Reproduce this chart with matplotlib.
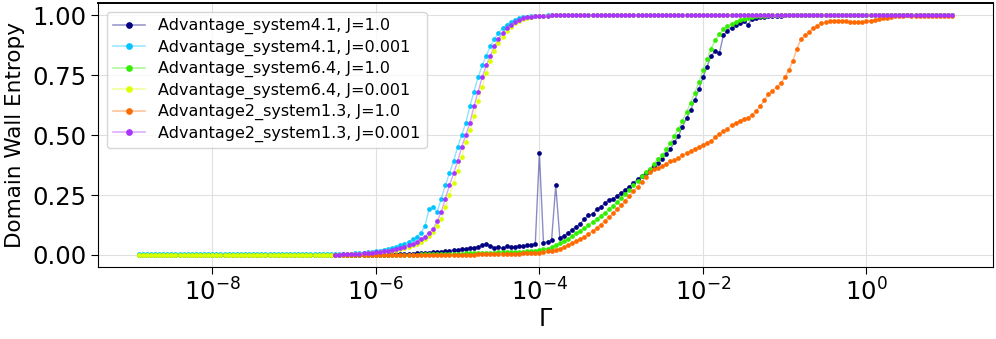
import matplotlib
matplotlib.use("Agg")
import matplotlib.pyplot as plt
import matplotlib.ticker as mticker
from matplotlib.colors import to_rgba
import numpy as np

# log10(Gamma) range of each sweep
range_41_64 = (-8.9, 1.05)   # Advantage_system4.1 / 6.4 sweeps
range_a2 = (-6.5, 1.05)      # Advantage2_system1.3 sweeps

labels = [
    "Advantage_system4.1, J=1.0",
    "Advantage_system4.1, J=0.001",
    "Advantage_system6.4, J=1.0",
    "Advantage_system6.4, J=0.001",
    "Advantage2_system1.3, J=1.0",
    "Advantage2_system1.3, J=0.001",
]
colors = ["#000080", "#00c4ff", "#33ee00", "#ddff00", "#ff6a00", "#aa33ff"]

# values, 0.05-decade steps
s41_j1 = [0.0] * 58 + [
    0.001, 0.001, 0.002, 0.002, 0.003, 0.003, 0.004, 0.004, 0.005, 0.006,
    0.007, 0.008, 0.009, 0.010, 0.011, 0.012, 0.014, 0.016, 0.018, 0.020,
    0.022, 0.024, 0.026, 0.029, 0.031, 0.035, 0.040, 0.044, 0.038, 0.030,
    0.034, 0.028, 0.036, 0.032, 0.035, 0.038, 0.036, 0.040, 0.043, 0.046,
    0.425, 0.052, 0.055, 0.064, 0.29, 0.072, 0.080, 0.092, 0.105, 0.118,
    0.13, 0.15, 0.165, 0.17, 0.19, 0.20, 0.215, 0.23, 0.235, 0.245,
    0.26, 0.27, 0.285, 0.30, 0.315, 0.33, 0.34, 0.355, 0.37, 0.385,
    0.40, 0.42, 0.44, 0.47, 0.495, 0.535, 0.57, 0.605, 0.645, 0.69,
    0.74, 0.785, 0.83, 0.85, 0.84, 0.915, 0.935, 0.948, 0.958, 0.967,
    0.974, 0.96, 0.983, 0.987, 0.99, 0.992, 0.994, 0.995, 0.997, 0.998,
    0.999,
] + [1.0] * 41

s41_j0001 = [0.003] * 48 + [
    0.003, 0.003, 0.004, 0.005, 0.006, 0.007, 0.008, 0.009, 0.011, 0.013,
    0.015, 0.018, 0.021, 0.025, 0.029, 0.034, 0.040, 0.047, 0.055, 0.065,
    0.077, 0.091, 0.12, 0.19, 0.20, 0.18, 0.235, 0.29, 0.34, 0.39,
    0.45, 0.50, 0.55, 0.62, 0.68, 0.74, 0.79, 0.83, 0.87, 0.90,
    0.925, 0.945, 0.96, 0.972, 0.98, 0.986, 0.99, 0.993, 0.995, 0.997,
    0.998, 0.998, 0.999,
] + [1.0] * 99

s64_j1 = [0.0] * 58 + [
    0.001, 0.001, 0.001, 0.001, 0.001, 0.001, 0.002, 0.002, 0.002, 0.002,
    0.002, 0.003, 0.003, 0.003, 0.003, 0.004, 0.004, 0.004, 0.005, 0.005,
    0.006, 0.006, 0.007, 0.007, 0.008, 0.008, 0.009, 0.009, 0.010, 0.010,
    0.011, 0.011, 0.012, 0.012, 0.013, 0.013, 0.014, 0.015, 0.016, 0.018,
    0.020, 0.023, 0.027, 0.033, 0.040, 0.048, 0.057, 0.067, 0.078, 0.090,
    0.10, 0.112, 0.124, 0.137, 0.150, 0.163, 0.176, 0.19, 0.205, 0.22,
    0.237, 0.254, 0.272, 0.29, 0.31, 0.33, 0.345, 0.36, 0.38, 0.40,
    0.415, 0.44, 0.465, 0.495, 0.525, 0.56, 0.595, 0.635, 0.675, 0.72,
    0.77, 0.815, 0.86, 0.895, 0.92, 0.94, 0.953, 0.963, 0.972, 0.979,
    0.984, 0.988, 0.991, 0.994, 0.996, 0.998, 0.999,
] + [1.0] * 45

s64_j0001 = [0.002] * 48 + [
    0.002, 0.002, 0.002, 0.003, 0.003, 0.004, 0.005, 0.006, 0.007, 0.008,
    0.009, 0.011, 0.013, 0.015, 0.018, 0.021, 0.025, 0.029, 0.034, 0.040,
    0.047, 0.056, 0.067, 0.080, 0.095, 0.12, 0.15, 0.20, 0.25, 0.30,
    0.35, 0.41, 0.47, 0.52, 0.58, 0.64, 0.70, 0.76, 0.81, 0.85,
    0.885, 0.91, 0.935, 0.952, 0.966, 0.976, 0.983, 0.988, 0.992, 0.994,
    0.996, 0.997, 0.998, 0.999,
] + [1.0] * 98

a2_j1 = [0.0] * 20 + [0.001] * 10 + [
    0.001, 0.002, 0.002, 0.002, 0.002, 0.003, 0.003, 0.003, 0.004, 0.004,
    0.004, 0.005, 0.005, 0.005, 0.006, 0.006, 0.007, 0.007, 0.008, 0.009,
    0.010, 0.012, 0.015, 0.018, 0.022, 0.027, 0.033, 0.040, 0.048, 0.057,
    0.066, 0.076, 0.088, 0.10, 0.113, 0.127, 0.142, 0.157, 0.173, 0.19,
    0.207, 0.225, 0.245, 0.265, 0.285, 0.305, 0.325, 0.345, 0.36, 0.362,
    0.37, 0.38, 0.39, 0.395, 0.405, 0.415, 0.425, 0.435, 0.443, 0.45,
    0.46, 0.468, 0.477, 0.49, 0.503, 0.515, 0.527, 0.54, 0.55, 0.56,
    0.568, 0.572, 0.585, 0.60, 0.62, 0.645, 0.67, 0.685, 0.70, 0.715,
    0.74, 0.77, 0.81, 0.86, 0.90, 0.915, 0.93, 0.945, 0.955, 0.965,
    0.97, 0.974, 0.976, 0.977, 0.976, 0.975, 0.973, 0.971, 0.97, 0.972,
    0.975, 0.977, 0.98, 0.983, 0.986, 0.989, 0.992, 0.995, 0.997, 0.998,
    0.999,
] + [0.997] * 11

a2_j0001 = [
    0.002, 0.002, 0.003, 0.003, 0.004, 0.005, 0.006, 0.007, 0.008, 0.009,
    0.011, 0.013, 0.015, 0.018, 0.021, 0.025, 0.029, 0.034, 0.040, 0.047,
    0.055, 0.065, 0.077, 0.091, 0.108, 0.14, 0.18, 0.235, 0.29, 0.34,
    0.39, 0.45, 0.50, 0.55, 0.62, 0.68, 0.74, 0.79, 0.83, 0.87,
    0.90, 0.925, 0.945, 0.96, 0.972, 0.98, 0.986, 0.99, 0.993, 0.995,
    0.997, 0.998, 0.998, 0.999,
] + [1.0] * 98

series = [
    (s41_j1, range_41_64),
    (s41_j0001, range_41_64),
    (s64_j1, range_41_64),
    (s64_j0001, range_41_64),
    (a2_j1, range_a2),
    (a2_j0001, range_a2),
]

fig = plt.figure(figsize=(9.96, 3.39), dpi=100)
ax = fig.add_axes([0.0984, 0.2124, 0.8986, 0.7786])

for (y, (lo, hi)), lab, c in zip(series, labels, colors):
    g = np.logspace(lo, hi, len(y))
    ax.plot(g, y, color=c, lw=1.0, alpha=0.45, zorder=2)
    ax.plot(g, y, ls="none", marker="o", ms=3.4, mec="none", color=c, zorder=3)
    # legend proxy: faint line with solid marker
    ax.plot([], [], color=to_rgba(c, 0.4), lw=1.2, marker="o", ms=3.8,
            mfc=c, mec=c, label=lab)

ax.set_xscale("log")
ax.set_xticks([1e-8, 1e-6, 1e-4, 1e-2, 1e0])
ax.xaxis.set_minor_locator(mticker.NullLocator())
ax.set_yticks([0.0, 0.25, 0.5, 0.75, 1.0])
ax.yaxis.set_major_formatter(mticker.FormatStrFormatter("%.2f"))
ax.tick_params(labelsize=17.5, length=5)
ax.set_xlabel("Γ", fontsize=17, labelpad=1)
ax.set_ylabel("Domain Wall Entropy", fontsize=15.5, labelpad=5)
ax.grid(True, color="#e0e0e0", lw=0.8)
ax.set_axisbelow(True)
ax.spines["top"].set_linewidth(1.4)

ax.legend(loc="upper left", fontsize=11.5, handlelength=2.0,
          borderaxespad=0.55, labelspacing=0.33, framealpha=0.8)

fig.savefig("out.png", dpi=100)
